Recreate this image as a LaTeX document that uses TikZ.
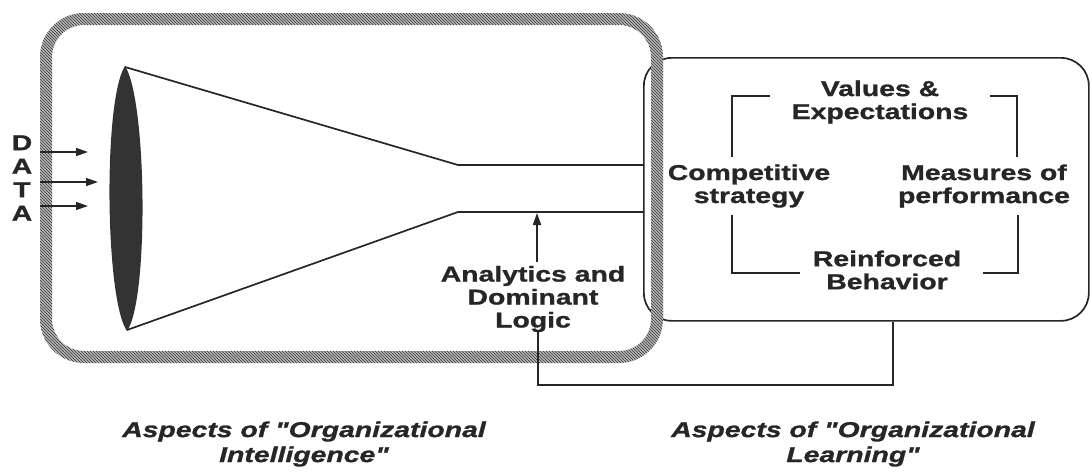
\documentclass[tikz,border=0pt]{standalone}
\usepackage{fontspec}
\setmainfont{Liberation Sans}
\newfontfamily\labfont[FakeStretch=1.32, BoldFeatures={FakeBold=1.2}, BoldItalicFeatures={FakeBold=1.2}]{Liberation Sans}
\usetikzlibrary{arrows.meta,patterns}

\begin{document}
\begin{tikzpicture}[x=1pt,y=-1pt,
  ink/.style={draw=black!85, line width=1.7pt},
  lab/.style={font=\labfont\bfseries\fontsize{21.5}{23}\selectfont, align=center, inner sep=0pt, text=black!85},
  caption/.style={font=\labfont\bfseries\itshape\fontsize{21.5}{25}\selectfont, align=center, inner sep=0pt, text=black!85},
  tip/.style={-{Triangle[length=12pt,width=8pt]}}]
\useasboundingbox (0,0) rectangle (1090,474);

% learning frame (right)
\node[ink, rounded corners=28pt, minimum width=445pt, minimum height=263pt,
      anchor=north west] (learn) at (643,57) {};

% intelligence frame (left): hatched band
\fill[black!28, even odd rule]
  [rounded corners=44pt] (40,13) rectangle (663,363)
  [rounded corners=32pt] (52,25) rectangle (651,351);
\fill[pattern=north west lines, pattern color=black!80, even odd rule]
  [rounded corners=44pt] (40,13) rectangle (663,363)
  [rounded corners=32pt] (52,25) rectangle (651,351);

% funnel
\fill[black!80] (125,66) .. controls (103,100) and (105,300) .. (127,331)
                 .. controls (149,300) and (147,100) .. (125,66);
\draw[ink] (125,67) -- (458,165) -- (643,165);
\draw[ink] (127,330) -- (458,212) -- (643,212);

% data input
\node[lab, font=\labfont\bfseries\fontsize{21.5}{23.5}\selectfont] (data) at (22,178) {D\\A\\T\\A};
\coordinate (d1s) at (40,152); \coordinate (d1e) at (88,152);
\coordinate (d2s) at (40,182); \coordinate (d2e) at (98,182);
\coordinate (d3s) at (40,206); \coordinate (d3e) at (88,206);
\draw[ink, line width=1.3pt, tip] (d1s) -- (d1e);
\draw[ink, line width=1.3pt, tip] (d2s) -- (d2e);
\draw[ink, line width=1.3pt, tip] (d3s) -- (d3e);

% analytics
\node[lab] (ana) at (533,299) {Analytics and\\Dominant\\Logic};
\coordinate (tube) at (537,213);
\draw[ink, tip] ([yshift=4pt]ana.north -| tube) -- (tube);

% feedback loop
\coordinate (loopL) at (538,385);
\coordinate (loopR) at (893,385);
\draw[ink] (ana.south -| loopL) -- (loopL) -- (loopR) -- (loopR |- learn.south);

% learning cycle
\node[lab] (values) at (880,102) {Values \&\\Expectations};
\node[lab] (comp) at (749,186) {Competitive\\strategy};
\node[lab] (meas) at (984,186) {Measures of\\performance};
\node[lab] (reinf) at (887,270) {Reinforced\\Behavior};

\draw[ink] (732,157) -- (732,96) -- (770,96);
\draw[ink] (990,96) -- (1017,96) -- (1017,157);
\draw[ink] (732,215) -- (732,273) -- (800,273);
\draw[ink] (983,273) -- (1018,273) -- (1018,215);

% captions
\node[caption] (capI) at (304,444) {Aspects of "Organizational\\Intelligence"};
\node[caption] (capL) at (853,444) {Aspects of "Organizational\\Learning"};
\end{tikzpicture}
\end{document}
